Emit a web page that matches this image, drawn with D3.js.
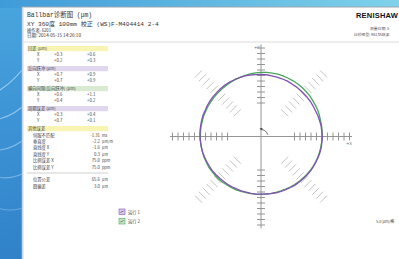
<!DOCTYPE html>
<html>
<head>
<meta charset="utf-8">
<script src="https://cdn.jsdelivr.net/npm/d3@7"></script>
<style>
  html, body { margin: 0; padding: 0; background: #fff; }
  svg { display: block; }
</style>
</head>
<body>
<svg id="chart" width="399" height="259"></svg>
<script>
// run data: radial error (um) every 5 degrees, counter-clockwise from +X
const angles = d3.range(0, 360, 5);
const run1 = [0.3, 0.0, 0.0, -0.3, -0.4, -0.7, -0.6, -0.4, -0.5, -0.5, -0.3, -0.1,
              0.0, 0.3, 0.4, 0.4, 0.6, 0.9, 1.0, 1.1, 1.3, 1.6, 1.6, 1.5,
              1.7, 1.7, 1.5, 1.3, 1.2, 1.1, 0.9, 0.6, 0.7, 0.5, 0.3, 0.2,
              0.0, -0.3, -0.4, -0.5, -0.8, -1.1, -1.3, -1.4, -1.8, -2.1, -2.3, -2.4,
              -2.7, -2.9, -2.9, -3.1, -3.0, -2.9, -3.0, -3.0, -2.8, -2.5, -2.4, -2.2,
              -1.9, -1.5, -1.4, -1.2, -0.9, -0.6, -0.5, -0.4, -0.1, 0.1, 0.2, 0.1];
const run2 = [0.0, 0.3, 0.5, 0.6, 1.0, 1.4, 1.6, 1.8, 2.3, 2.4, 2.7, 2.9,
              3.0, 3.0, 3.2, 3.3, 3.1, 3.0, 2.9, 2.7, 2.3, 1.8, 1.5, 1.3,
              0.9, 0.7, 0.5, 0.4, 0.2, 0.0, 0.0, -0.2, -0.1, -0.3, -0.2, -0.3,
              -0.3, -0.2, -0.3, -0.4, -0.3, -0.5, -0.4, -0.6, -0.7, -0.9, -1.2, -1.6,
              -1.8, -2.0, -2.3, -2.6, -2.7, -2.8, -2.9, -3.1, -3.0, -2.9, -2.8, -2.6,
              -2.4, -2.1, -1.9, -1.7, -1.4, -1.1, -0.9, -0.7, -0.5, -0.4, -0.2, -0.1];
const runNames = ["运行 1", "运行 2"];

const sectionNames = ["回差 (μm)", "反向跃冲 (μm)", "横向间隙(反向跃冲) (μm)", "周期误差 (μm)"];
const rowAxes = ["X", "Y"];
const sectionValues = [
  [["+0.3", "+0.6"], ["+0.2", "+0.3"]],
  [["+0.7", "+0.9"], ["+0.7", "+0.9"]],
  [["+0.6", "+1.1"], ["+0.4", "+0.2"]],
  [["+0.3", "+0.4"], ["+0.7", "+0.1"]]
];
const otherTitle = "其他误差";
const otherLabels = ["伺服不匹配", "垂直度", "直线度 X", "直线度 Y", "比例误差 X", "比例误差 Y"];
const otherValues = ["-1.31", "-2.2", "-1.6", "0.3", "75.0", "75.0"];
const otherUnits = ["ms", "μm/m", "μm", "μm", "ppm", "ppm"];
const summaryLabels = ["位置公差", "圆偏差"];
const summaryValues = ["65.6", "3.0"];
const summaryUnits = ["μm", "μm"];

const svg = d3.select("#chart");
const cjk = "'Noto Sans CJK SC', 'Noto Sans', sans-serif";
const mono = "'Liberation Mono', 'Noto Sans CJK SC', monospace";

// desktop wallpaper behind the window
const defs = svg.append("defs");
const bg = defs.append("linearGradient").attr("id", "bg").attr("x1", 0).attr("y1", 0).attr("x2", 0.3).attr("y2", 1);
bg.append("stop").attr("offset", 0).attr("stop-color", "#4aa6de");
bg.append("stop").attr("offset", 0.5).attr("stop-color", "#3b91d4");
bg.append("stop").attr("offset", 1).attr("stop-color", "#2f7fc6");
const topBg = defs.append("linearGradient").attr("id", "topbg");
topBg.append("stop").attr("offset", 0).attr("stop-color", "#3f9bd8");
topBg.append("stop").attr("offset", 1).attr("stop-color", "#7fd2ea");

svg.append("rect").attr("width", 399).attr("height", 259).attr("fill", "url(#bg)");
svg.append("rect").attr("width", 399).attr("height", 8).attr("fill", "url(#topbg)");
[[-10, 95, 30, 60], [-10, 120, 30, 100], [-10, 150, 30, 135], [-10, 175, 30, 170], [-10, 205, 30, 205]]
  .forEach(([x1, y1, x2, y2], i) => {
    svg.append("path")
      .attr("d", `M${x1},${y1} Q${(x1 + x2) / 2},${(y1 + y2) / 2 + 10} ${x2},${y2}`)
      .attr("fill", "none").attr("stroke", "#dff3ff")
      .attr("stroke-opacity", 0.55 - i * 0.06).attr("stroke-width", 1.2);
  });

// window
svg.append("rect").attr("x", 22).attr("y", 7).attr("width", 390).attr("height", 270)
  .attr("fill", "#fff").attr("stroke", "#9aa6b2").attr("stroke-width", 1);
svg.append("line").attr("x1", 23).attr("x2", 23).attr("y1", 7).attr("y2", 259).attr("stroke", "#cfd6dc");

// header
const head = svg.append("g").attr("fill", "#333");
head.append("text").attr("x", 27).attr("y", 17).attr("font-family", mono).attr("font-size", 6.4).text("Ballbar诊断图 (μm)");
head.append("text").attr("x", 27).attr("y", 26).attr("font-family", mono).attr("font-size", 6.1)
  .text("XY 360度 100mm 校正 (WS)F-M404414 2-4");
head.append("text").attr("x", 27).attr("y", 31.5).attr("font-family", cjk).attr("font-size", 4.2).text("操作者: 6201");
head.append("text").attr("x", 27).attr("y", 37).attr("font-family", cjk).attr("font-size", 4.6).text("日期: 2014-05-15 14:26:10");
head.append("text").attr("x", 356).attr("y", 18).attr("font-family", "'Liberation Sans', sans-serif")
  .attr("font-size", 7.5).attr("font-weight", "bold").attr("letter-spacing", 0.2).attr("fill", "#111").text("RENISHAW");
head.append("text").attr("x", 370).attr("y", 30).attr("font-family", cjk).attr("font-size", 3.8).attr("fill", "#555").text("测量日期: 5");
head.append("text").attr("x", 354).attr("y", 35.5).attr("font-family", cjk).attr("font-size", 3.8).attr("fill", "#555").text("比较图型: 9613A结果");
svg.append("line").attr("x1", 23).attr("x2", 399).attr("y1", 42).attr("y2", 42).attr("stroke", "#dcdcdc");

// left result panel
const panel = svg.append("g").attr("font-family", cjk).attr("fill", "#444");
const bandColors = ["#f7f4b4", "#e0d6ee", "#d8ebd2", "#e0d6ee"];
sectionNames.forEach((name, i) => {
  const top = 46 + i * 20;
  panel.append("rect").attr("x", 27).attr("y", top).attr("width", 81).attr("height", 5.2).attr("fill", bandColors[i]);
  panel.append("text").attr("x", 28).attr("y", top + 4.2).attr("font-size", 4.3).text(name);
  rowAxes.forEach((ax, j) => {
    const y = top + 9.6 + j * 6.2;
    panel.append("text").attr("x", 37).attr("y", y).attr("font-size", 4.3).text(ax);
    panel.append("text").attr("x", 54).attr("y", y).attr("font-size", 4.3).text(sectionValues[i][j][0]);
    panel.append("text").attr("x", 87).attr("y", y).attr("font-size", 4.3).text(sectionValues[i][j][1]);
  });
});
panel.append("rect").attr("x", 27).attr("y", 126).attr("width", 81).attr("height", 5.2).attr("fill", "#f7f4b4");
panel.append("text").attr("x", 28).attr("y", 130.2).attr("font-size", 4.3).text(otherTitle);
otherLabels.forEach((lab, i) => {
  const y = 136.5 + i * 6.4;
  panel.append("text").attr("x", 33).attr("y", y).attr("font-size", 4.3).text(lab);
  panel.append("text").attr("x", 100).attr("y", y).attr("font-size", 4.3).attr("text-anchor", "end").text(otherValues[i]);
  panel.append("text").attr("x", 102).attr("y", y).attr("font-size", 3.8).text(otherUnits[i]);
});
panel.append("line").attr("x1", 27).attr("x2", 108).attr("y1", 173).attr("y2", 173).attr("stroke", "#d0d0d0").attr("stroke-width", 1);
summaryLabels.forEach((lab, i) => {
  const y = 180.5 + i * 7;
  panel.append("text").attr("x", 33).attr("y", y).attr("font-size", 4.3).text(lab);
  panel.append("text").attr("x", 100).attr("y", y).attr("font-size", 4.3).attr("text-anchor", "end").text(summaryValues[i]);
  panel.append("text").attr("x", 102).attr("y", y).attr("font-size", 3.8).text(summaryUnits[i]);
});

// polar plot
const cx = 261, cy = 136.5;
const rScale = d3.scaleLinear().domain([-25, 25]).range([33.5, 88.5]);
const tickVals = rScale.ticks(10);
const plot = svg.append("g").attr("transform", `translate(${cx},${cy})`);

// diagonal grid ticks
[45, 135, 225, 315].forEach(a => {
  const t = a * Math.PI / 180;
  const ux = Math.cos(t), uy = -Math.sin(t);
  plot.selectAll(null).data(tickVals).join("line")
    .attr("x1", d => rScale(d) * ux - uy * 5)
    .attr("y1", d => rScale(d) * uy + ux * 5)
    .attr("x2", d => rScale(d) * ux + uy * 5)
    .attr("y2", d => rScale(d) * uy - ux * 5)
    .attr("stroke", "#c4c4c4").attr("stroke-width", 1);
});

// axes
plot.append("line").attr("x1", 0).attr("x2", 0).attr("y1", -92).attr("y2", 92).attr("stroke", "#8a8a8a").attr("stroke-width", 0.9);
plot.append("line").attr("x1", -91).attr("x2", 91).attr("y1", 0).attr("y2", 0).attr("stroke", "#8a8a8a").attr("stroke-width", 0.9);
[1, -1].forEach(sx => {
  plot.selectAll(null).data(tickVals).join("line")
    .attr("x1", d => sx * rScale(d)).attr("x2", d => sx * rScale(d))
    .attr("y1", -4).attr("y2", 4)
    .attr("stroke", "#8a8a8a").attr("stroke-width", 0.9);
});
[1, -1].forEach(sy => {
  plot.selectAll(null).data(tickVals).join("line")
    .attr("y1", d => sy * rScale(d)).attr("y2", d => sy * rScale(d))
    .attr("x1", -4).attr("x2", 4)
    .attr("stroke", "#8a8a8a").attr("stroke-width", 0.9);
});
plot.append("text").attr("x", -7).attr("y", -88).attr("font-size", 4).attr("font-family", "'DejaVu Sans', sans-serif")
  .attr("fill", "#666").text("+Y");
plot.append("text").attr("x", 85).attr("y", 8).attr("font-size", 4).attr("font-family", "'DejaVu Sans', sans-serif")
  .attr("fill", "#666").text("+X");

// direction arrow near the centre
plot.append("path").attr("d", d3.arc()({ innerRadius: 7, outerRadius: 7, startAngle: -0.1, endAngle: 1.3 }))
  .attr("fill", "none").attr("stroke", "#777").attr("stroke-width", 0.7);
plot.append("path").attr("d", "M-1.5,-8.3 L1.2,-6.2 L1.4,-8.6 Z").attr("fill", "#444");

// traces
const line = d3.lineRadial().curve(d3.curveLinearClosed)
  .angle(d => (90 - d[0]) * Math.PI / 180)
  .radius(d => rScale(d[1]));
const runColors = ["#8052b2", "#46a85b"];
[run2, run1].forEach((run, k) => {
  const i = 1 - k;
  plot.append("path")
    .attr("d", line(angles.map((a, j) => [a, run[j]])))
    .attr("fill", "none").attr("stroke", runColors[i]).attr("stroke-width", 1.3).attr("stroke-linejoin", "round");
});

// legend
const legend = svg.append("g").attr("font-family", cjk).attr("font-size", 4.3).attr("fill", "#444");
const legFill = ["#d9cbee", "#c8e6c6"];
runNames.forEach((n, i) => {
  const y = 209 + i * 9.5;
  legend.append("rect").attr("x", 119).attr("y", y).attr("width", 6).attr("height", 5.5)
    .attr("fill", legFill[i]).attr("stroke", runColors[i]).attr("stroke-width", 0.6);
  legend.append("path").attr("d", `M120.5,${y + 3.5} L123.5,${y + 2}`).attr("stroke", "#333").attr("stroke-width", 0.6);
  legend.append("text").attr("x", 128).attr("y", y + 4.5).text(n);
});
svg.append("text").attr("x", 376).attr("y", 223).attr("font-family", cjk).attr("font-size", 4).attr("fill", "#444").text("5.0 μm/格");
</script>
</body>
</html>
